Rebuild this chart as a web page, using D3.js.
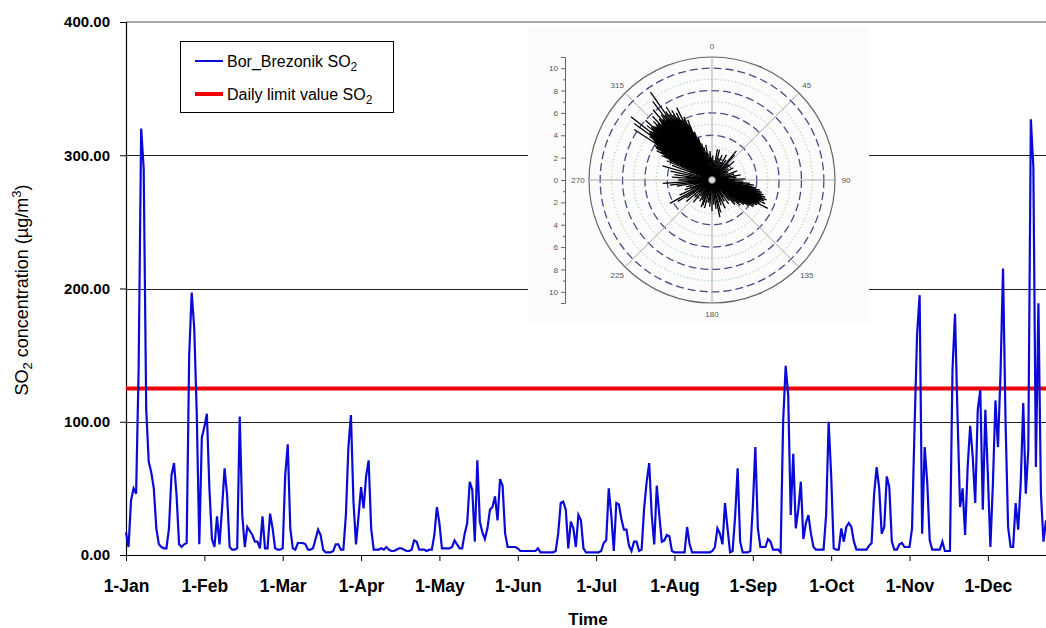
<!DOCTYPE html>
<html>
<head>
<meta charset="utf-8">
<script src="https://cdn.jsdelivr.net/npm/d3@7/dist/d3.min.js"></script>
<style>
    body { margin: 0; background: #fff; }
    text { font-family: "Liberation Sans", Arial, sans-serif; }
</style>
</head>
<body>
<svg id="chart" width="1046" height="628"></svg>
<script>

// Daily SO2 mean values (µg/m3), one per day of the year.
var so2Values = [
    17, 6, 41, 50, 46, 140, 320, 290, 109, 70,
    62, 50, 20, 8, 6, 5, 5, 20, 60, 69,
    45, 8, 6, 8, 9, 150, 197, 170, 106, 8,
    88, 96, 106, 50, 12, 6, 29, 8, 35, 65,
    45, 6, 4, 4, 5, 104, 30, 6, 21, 18,
    15, 10, 10, 5, 29, 5, 5, 31, 20, 5,
    4, 4, 5, 60, 83, 20, 5, 4, 9, 9,
    9, 8, 4, 4, 5, 12, 19, 15, 4, 2,
    2, 2, 3, 8, 8, 4, 4, 30, 81, 105,
    40, 8, 29, 51, 35, 59, 71, 20, 4, 4,
    4, 5, 4, 6, 4, 3, 3, 4, 5, 5,
    4, 3, 3, 4, 11, 10, 4, 4, 4, 3,
    4, 4, 15, 36, 24, 5, 5, 5, 5, 6,
    11, 8, 5, 5, 16, 24, 55, 49, 10, 71,
    25, 17, 12, 20, 34, 36, 44, 26, 57, 52,
    16, 6, 6, 6, 6, 5, 3, 3, 3, 3,
    3, 3, 3, 5, 2, 2, 2, 2, 2, 2,
    3, 16, 39, 40, 34, 5, 25, 20, 6, 30,
    26, 5, 2, 2, 2, 2, 2, 2, 3, 9,
    11, 50, 30, 3, 39, 38, 27, 19, 19, 7,
    3, 10, 10, 3, 4, 35, 55, 69, 30, 8,
    52, 30, 10, 11, 15, 14, 3, 2, 2, 2,
    2, 2, 21, 8, 2, 2, 2, 2, 2, 2,
    2, 2, 3, 6, 20, 16, 8, 39, 20, 2,
    3, 29, 65, 10, 2, 2, 2, 3, 36, 81,
    20, 6, 6, 6, 12, 10, 4, 4, 4, 2,
    100, 142, 120, 30, 76, 20, 34, 55, 12, 24,
    30, 16, 6, 4, 4, 4, 4, 30, 100, 60,
    5, 4, 4, 20, 10, 21, 24, 21, 10, 4,
    4, 4, 4, 4, 7, 9, 46, 66, 50, 16,
    21, 59, 51, 10, 4, 4, 8, 9, 6, 6,
    6, 20, 96, 166, 195, 16, 81, 55, 11, 4,
    4, 4, 4, 10, 3, 3, 3, 139, 181, 104,
    36, 50, 15, 66, 97, 74, 39, 109, 124, 34,
    109, 60, 6, 54, 116, 81, 136, 215, 100, 21,
    6, 6, 39, 19, 54, 114, 46, 79, 327, 291,
    66, 189, 46, 10, 26
];

// Daily limit value for SO2.
var limitValue = 125;

// Tick labels on the time axis (one every 31 days).
var monthLabels = ['1-Jan', '1-Feb', '1-Mar', '1-Apr', '1-May', '1-Jun',
    '1-Jul', '1-Aug', '1-Sep', '1-Oct', '1-Nov', '1-Dec'];
var monthTickDays = [0, 31, 62, 93, 124, 155, 186, 217, 248, 279, 310, 341];
var yTicks = [0, 100, 200, 300, 400];

// Wind rose of the inset: direction (degrees) and speed (m/s) of each line.
var windDir = [
    286, 290, 293, 295, 296, 297, 298, 299, 300, 301, 302, 303, 304, 305, 306, 307, 308, 309,
    310, 311, 312, 313, 314, 315, 316, 317, 318, 319, 320, 321, 322, 323, 324, 325, 326, 327,
    328, 329, 330, 331, 332, 333, 334, 335, 336, 337, 338, 339, 340, 341, 342, 344, 346, 348,
    350, 353, 356, 359,
    300.5, 301.5, 302.5, 303.5, 304.5, 305.5, 306.5, 307.5, 308.5, 309.5, 310.5, 311.5, 312.5,
    313.5, 314.5, 315.5, 316.5, 317.5, 318.5, 319.5, 320.5, 321.5, 322.5, 323.5, 324.5, 325.5,
    326.5, 327.5, 328.5, 329.5, 330.5, 331.5, 332.5, 333.5, 334.5, 335.5, 336.5, 337.5, 338.5,
    88, 92, 95, 97, 99, 100, 101, 102, 103, 104, 105, 106, 107, 108, 109, 110, 111, 112, 113,
    114, 115, 116, 117, 118, 119, 120, 121, 122, 123, 124, 125, 126, 127, 128, 130, 132, 134,
    137, 140,
    100.5, 102.5, 104.5, 106.5, 108.5, 110.5, 112.5, 114.5, 116.5, 118.5, 120.5, 122.5, 124.5,
    2, 6, 10, 14, 18, 22, 26, 30, 35, 40, 42, 46, 50, 55, 60, 65, 70, 75, 80, 84,
    145, 150, 155, 160, 165, 168, 172, 176, 180, 185, 190, 195, 200, 202, 206, 210, 215,
    220, 225, 230, 235, 238, 241, 245, 250, 255, 260, 263, 266, 270, 274, 278, 282,
    8, 33, 57, 78, 148, 158, 170, 188, 197, 212, 228, 248, 258, 268, 276
];
var windSpeed = [
    4.6, 3.8, 4.4, 4.2, 5.0, 4.8, 5.6, 5.2, 5.8, 6.0, 5.5, 8.3, 6.2, 6.8, 8.6, 7.0, 9.2, 6.8,
    7.6, 7.2, 8.0, 7.0, 6.8, 7.4, 6.9, 7.8, 6.6, 7.2, 8.2, 7.0, 7.4, 8.8, 7.2, 9.6, 7.4, 7.0,
    7.7, 6.8, 7.2, 6.4, 6.8, 6.0, 7.2, 6.0, 6.2, 5.4, 5.8, 4.4, 4.6, 3.8, 4.0, 3.4, 3.0, 2.6,
    3.2, 2.4, 2.6, 2.0,
    5.6, 5.8, 6.0, 6.2, 6.4, 6.6, 6.8, 6.6, 7.0, 6.8, 7.0, 6.9, 7.1, 6.9, 7.0, 6.8, 7.0, 6.7,
    6.9, 6.8, 6.9, 6.7, 6.8, 6.6, 6.8, 6.5, 6.6, 6.4, 6.5, 6.3, 6.2, 6.0, 6.0, 5.8, 5.6, 5.4,
    5.2, 5.0, 4.6,
    3.0, 2.8, 3.4, 3.8, 3.6, 4.0, 3.8, 4.4, 4.0, 4.6, 4.2, 4.8, 4.4, 5.0, 4.6, 5.2, 4.9, 5.0, 4.7,
    5.2, 4.6, 4.8, 5.6, 4.5, 4.6, 4.2, 4.4, 4.0, 4.4, 3.8, 4.0, 3.6, 3.4, 3.6, 3.2, 3.4, 2.8,
    3.0, 2.4,
    3.8, 4.2, 4.4, 4.6, 4.8, 4.8, 4.7, 4.6, 4.5, 4.3, 4.1, 3.9, 3.6,
    2.2, 1.8, 2.8, 2.8, 2.0, 2.4, 1.8, 2.6, 2.2, 3.4, 3.0, 2.0, 2.6, 1.8, 2.2, 1.6, 2.4, 2.0, 2.6, 2.2,
    2.6, 2.2, 2.8, 2.4, 3.0, 3.4, 2.6, 2.2, 2.8, 2.4, 2.0, 2.6, 2.4, 2.6, 2.0, 2.2, 1.8,
    2.6, 2.2, 3.0, 2.8, 3.6, 4.3, 3.2, 2.6, 2.4, 3.2, 3.8, 4.4, 3.0, 3.6, 3.4, 3.8,
    1.6, 1.8, 1.5, 1.7, 1.8, 2.0, 1.6, 1.9, 1.5, 1.7, 1.6, 2.0, 1.8, 2.2, 2.4
];
var radialTicks = [-10, -8, -6, -4, -2, 0, 2, 4, 6, 8, 10];
var angleLabels = [0, 45, 90, 135, 180, 225, 270, 315];

var svg = d3.select('#chart');

// Plot area: 0..400 on y, day 0..364 on x (right side cut by the frame).
var x = d3.scaleLinear().domain([0, 364]).range([126, 1046]);
var y = d3.scaleLinear().domain([0, 400]).range([555, 22]);

// Top border and horizontal gridlines.
svg.append('line')
    .attr('x1', 126).attr('x2', 1046)
    .attr('y1', y(400)).attr('y2', y(400))
    .attr('stroke', '#8a8a8a').attr('stroke-width', 1.5);

svg.selectAll('.grid')
    .data([100, 200, 300])
    .enter()
    .append('line')
    .attr('class', 'grid')
    .attr('x1', 126).attr('x2', 1046)
    .attr('y1', function (d) { return Math.round(y(d)) + 0.5; })
    .attr('y2', function (d) { return Math.round(y(d)) + 0.5; })
    .attr('stroke', '#222').attr('stroke-width', 1);

// Y axis.
var yAxis = svg.append('g')
    .attr('transform', 'translate(126,0)')
    .call(d3.axisLeft(y).tickValues(yTicks).tickFormat(d3.format('.2f')).tickSize(6).tickPadding(10));
yAxis.select('.domain').attr('stroke', '#000').attr('stroke-width', 1.2);
yAxis.selectAll('.tick line').attr('stroke', '#000');
yAxis.selectAll('text')
    .style('font-family', '"Liberation Sans", Arial, sans-serif')
    .style('font-size', '15px').style('font-weight', 'bold').attr('fill', '#000');

// X axis.
var xAxis = svg.append('g')
    .attr('transform', 'translate(0,555)')
    .call(d3.axisBottom(x).tickValues(monthTickDays)
        .tickFormat(function (d, i) { return monthLabels[i]; })
        .tickSize(6).tickPadding(19).tickSizeOuter(0));
xAxis.select('.domain').attr('stroke', '#000').attr('stroke-width', 1.2);
xAxis.selectAll('.tick line').attr('stroke', '#000');
xAxis.selectAll('text')
    .style('font-family', '"Liberation Sans", Arial, sans-serif')
    .style('font-size', '17.5px').style('font-weight', 'bold').attr('fill', '#000');

// Axis titles.
svg.append('text')
    .attr('x', 588).attr('y', 625)
    .attr('text-anchor', 'middle')
    .style('font-size', '17px').style('font-weight', 'bold')
    .text('Time');

var yTitle = svg.append('text')
    .attr('transform', 'translate(28,290) rotate(-90)')
    .attr('text-anchor', 'middle')
    .style('font-size', '18px');
yTitle.append('tspan').text('SO');
yTitle.append('tspan').attr('dy', 4).style('font-size', '13px').text('2');
yTitle.append('tspan').attr('dy', -4).text(' concentration (\u00b5g/m');
yTitle.append('tspan').attr('dy', -7).style('font-size', '13px').text('3');
yTitle.append('tspan').attr('dy', 7).text(')');

// Inset: wind rose picture pasted over the plot.
var cx = 712, cy = 180;
var r = d3.scaleLinear().domain([0, 11]).range([0, 123]);

svg.append('rect')
    .attr('x', 528).attr('y', 27).attr('width', 341).attr('height', 296)
    .attr('fill', '#fbfbfb');

var rose = svg.append('g').attr('transform', 'translate(' + cx + ',' + cy + ')');

rose.selectAll('.dotted')
    .data([1, 3, 5, 7, 9])
    .enter()
    .append('circle')
    .attr('r', function (d) { return r(d); })
    .attr('fill', 'none').attr('stroke', '#78c878')
    .attr('stroke-width', 1).attr('stroke-dasharray', '1,2.5');

rose.selectAll('.dashed')
    .data([2, 4, 6, 8, 10])
    .enter()
    .append('circle')
    .attr('r', function (d) { return r(d); })
    .attr('fill', 'none').attr('stroke', '#4a4a86')
    .attr('stroke-width', 1.3).attr('stroke-dasharray', '8,4');

rose.append('circle')
    .attr('r', r(11))
    .attr('fill', 'none').attr('stroke', '#666').attr('stroke-width', 1.2);

// Spokes every 45 degrees.
var radial = d3.lineRadial();
rose.selectAll('.spoke')
    .data(angleLabels)
    .enter()
    .append('path')
    .attr('d', function (d) { return radial([[d * Math.PI / 180, 0], [d * Math.PI / 180, r(11)]]); })
    .attr('stroke', '#a0a0a0').attr('stroke-width', 0.9);

// The wind lines themselves.
rose.selectAll('.wind')
    .data(windDir)
    .enter()
    .append('path')
    .attr('d', function (d, i) {
        return radial([[d * Math.PI / 180, 0], [d * Math.PI / 180, r(windSpeed[i])]]);
    })
    .attr('stroke', '#000').attr('stroke-width', 1.3).attr('fill', 'none');

rose.append('circle')
    .attr('r', 3.5).attr('fill', '#d8d8d8').attr('stroke', '#666').attr('stroke-width', 0.8);

rose.selectAll('.angle')
    .data(angleLabels)
    .enter()
    .append('text')
    .attr('x', function (d) { return 134 * Math.sin(d * Math.PI / 180); })
    .attr('y', function (d) { return -134 * Math.cos(d * Math.PI / 180); })
    .attr('text-anchor', 'middle').attr('dy', '0.35em')
    .attr('fill', '#555').style('font-size', '8px')
    .text(function (d) { return d; });

// Left radial axis of the inset.
var rAxisScale = d3.scaleLinear().domain([11, -11]).range([cy - r(11), cy + r(11)]);
var rAxis = svg.append('g')
    .attr('transform', 'translate(565,0)')
    .call(d3.axisLeft(rAxisScale).tickValues(radialTicks)
        .tickFormat(function (d) { return Math.abs(d); }).tickSize(4).tickPadding(3));
rAxis.select('.domain').attr('stroke', '#666');
rAxis.selectAll('.tick line').attr('stroke', '#666');
rAxis.selectAll('text').attr('fill', '#555')
    .style('font-family', '"Liberation Sans", Arial, sans-serif').style('font-size', '8px');
rAxis.append('g')
    .call(d3.axisLeft(rAxisScale).tickValues([-9, -7, -5, -3, -1, 1, 3, 5, 7, 9]).tickSize(2).tickFormat(''))
    .call(function (g) { g.select('.domain').remove(); })
    .selectAll('line').attr('stroke', '#666');

// Red limit line and the SO2 series.
svg.append('line')
    .attr('x1', 126).attr('x2', 1046)
    .attr('y1', y(limitValue)).attr('y2', y(limitValue))
    .attr('stroke', '#ee0000').attr('stroke-width', 4);

var line = d3.line()
    .x(function (d, i) { return x(i); })
    .y(function (d) { return y(d); });

svg.append('path')
    .datum(so2Values)
    .attr('d', line)
    .attr('fill', 'none')
    .attr('stroke', '#0a0ad8')
    .attr('stroke-width', 2.2)
    .attr('stroke-linejoin', 'miter');

// Legend.
var legend = svg.append('g');
legend.append('rect')
    .attr('x', 180.5).attr('y', 41.5).attr('width', 213).attr('height', 71)
    .attr('fill', '#fff').attr('stroke', '#000').attr('stroke-width', 1);

var legendItems = [
    { label: 'Bor_Brezonik SO', color: '#0a0ad8', width: 2, y: 61 },
    { label: 'Daily limit value SO', color: '#ee0000', width: 4, y: 94 }
];
legendItems.forEach(function (item) {
    legend.append('line')
        .attr('x1', 195).attr('x2', 223).attr('y1', item.y).attr('y2', item.y)
        .attr('stroke', item.color).attr('stroke-width', item.width);
    var t = legend.append('text')
        .attr('x', 227).attr('y', item.y + 6)
        .style('font-size', '16px');
    t.append('tspan').text(item.label);
    t.append('tspan').attr('dy', 4).style('font-size', '12px').text('2');
});

</script>
</body>
</html>
